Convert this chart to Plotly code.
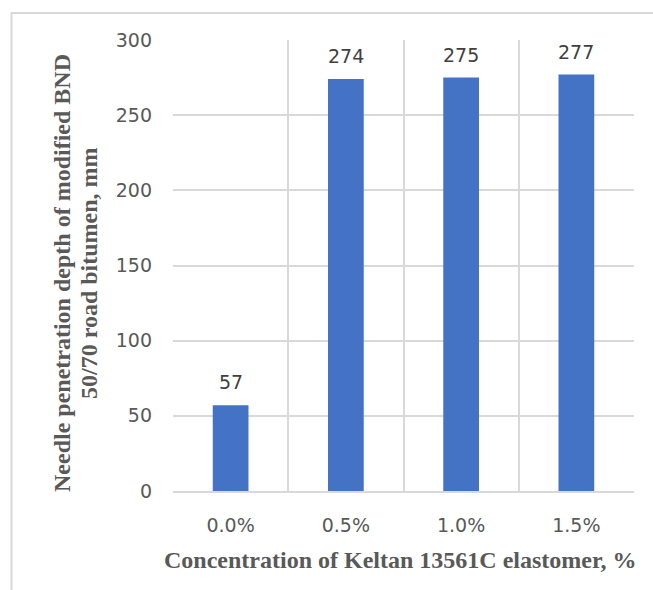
import plotly.graph_objects as go

# Needle penetration of modified BND 50/70 bitumen vs. elastomer dosage
concentrations = ["0.0%", "0.5%", "1.0%", "1.5%"]
penetration_mm = [57, 274, 275, 277]
y_ticks = [0, 50, 100, 150, 200, 250, 300]
y_title_lines = ["Needle penetration depth of modified BND", "50/70 road bitumen, mm"]
x_title = "Concentration of Keltan 13561C elastomer, %"

W, H = 653, 590
L, R, T, B = 173, 19, 40, 99
pw, ph = W - L - R, H - T - B

def px_x(x):
    return (x - L) / pw

def px_y(y):
    return (H - B - y) / ph

grid = "#d9d9d9"
text_grey = "#595959"
tick_font = dict(family="DejaVu Sans, sans-serif", size=19, color=text_grey)
label_font = dict(family="DejaVu Sans, sans-serif", size=19, color="#404040")
serif = "Liberation Serif, Times New Roman, serif"

fig = go.Figure(
    go.Bar(
        x=concentrations,
        y=penetration_mm,
        marker=dict(color="#4472c4", line=dict(width=0)),
        width=0.31,
        hoverinfo="x+y",
    )
)

# value labels above each bar
annotations = [
    dict(
        x=c, y=v, xref="x", yref="y",
        text=str(v), showarrow=False,
        xanchor="center", yanchor="middle", yshift=23,
        font=label_font,
    )
    for c, v in zip(concentrations, penetration_mm)
]

# rotated two-line y-axis title, one annotation per line
for line, xc in zip(y_title_lines, [62, 89]):
    annotations.append(
        dict(
            text=f"<b>{line}</b>",
            xref="paper", yref="paper",
            x=px_x(xc), y=px_y(273),
            xanchor="center", yanchor="middle",
            textangle=-90, showarrow=False,
            font=dict(family=serif, size=24, color=text_grey),
        )
    )

annotations.append(
    dict(
        text=f"<b>{x_title}</b>",
        xref="paper", yref="paper",
        x=px_x(400), y=px_y(560),
        xanchor="center", yanchor="middle",
        showarrow=False,
        font=dict(family=serif, size=24, color=text_grey),
    )
)

fig.update_layout(
    width=W,
    height=H,
    margin=dict(l=L, r=R, t=T, b=B),
    paper_bgcolor="white",
    plot_bgcolor="white",
    showlegend=False,
    xaxis=dict(
        type="category",
        tickson="boundaries",
        showgrid=True,
        gridcolor=grid,
        gridwidth=1.5,
        showline=True,
        linecolor=grid,
        linewidth=1.5,
        ticks="",
        tickfont=tick_font,
        ticklabelstandoff=16,
    ),
    yaxis=dict(
        range=[0, 300],
        tickvals=y_ticks,
        showgrid=True,
        gridcolor=grid,
        gridwidth=1.5,
        zeroline=False,
        showline=False,
        ticks="",
        tickfont=tick_font,
        ticklabelstandoff=20,
    ),
    annotations=annotations,
    shapes=[
        dict(
            type="rect", xref="paper", yref="paper",
            x0=px_x(11.5), x1=px_x(670), y0=px_y(610), y1=px_y(13),
            line=dict(color=grid, width=2),
            fillcolor="rgba(0,0,0,0)",
            layer="below",
        )
    ],
)

fig.write_html("out.html")
